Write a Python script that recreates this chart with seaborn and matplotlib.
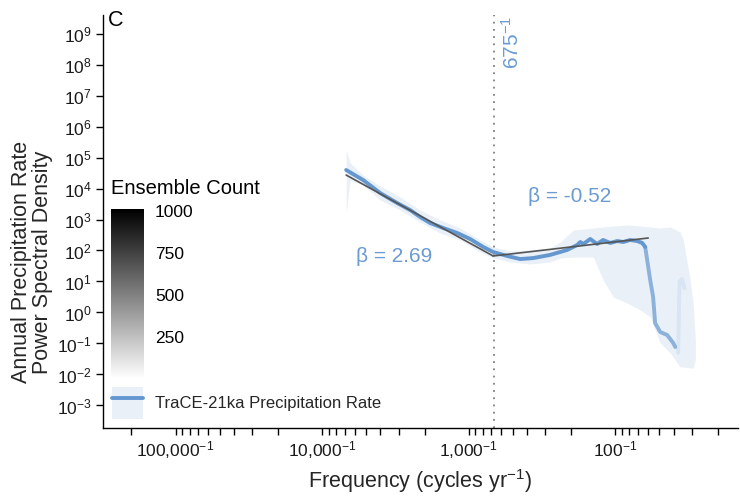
import numpy as np
import pandas as pd
import matplotlib
matplotlib.use("Agg")
import matplotlib.pyplot as plt
import seaborn as sns
from matplotlib.colors import LinearSegmentedColormap, Normalize
from matplotlib.cm import ScalarMappable
from matplotlib.patches import Patch
from matplotlib.lines import Line2D
from matplotlib.legend_handler import HandlerTuple

# ---------------- data ----------------
line_period = [6855, 5250, 4018, 3076, 2507, 2143, 1832, 1493, 1197, 977, 796, 680,
               546, 445, 363, 278, 213, 182, 173, 165, 148, 133, 121, 108, 96.9,
               88.1, 79.0, 70.8, 65.4, 62.4]
line_psd = [39500, 18800, 7160, 3400, 2020, 1205, 771, 532, 367, 235, 130, 89.5,
            66.5, 53, 57, 72, 104, 150, 188, 162, 235, 162, 218, 175, 202,
            188, 218, 202, 175, 130]

tail_period = [62.4, 60.5, 57.7, 55.1, 53.4, 49.3, 44.2, 40.2, 38.9]
tail_psd = [130, 49.4, 11.2, 3.16, 0.458, 0.235, 0.188, 0.104, 0.077]

ghost_period = [37.2, 36.4, 35.0, 33.6]
ghost_psd = [0.05, 10, 12, 6]

band_period = [6855, 6440, 5250, 4018, 2935, 2143, 1565, 1143, 835, 680, 521, 380,
               278, 237, 193, 141, 121, 103, 82.8, 67.5, 57.7, 49.3, 42.1, 36.0,
               34.3, 30.8, 29.4, 28.4]
band_upper = [174600, 66500, 27200, 12050, 5320, 2020, 963, 532, 218, 130, 96.3, 104,
              120, 188, 458, 532, 573, 617, 665, 617, 573, 532, 573, 395,
              218, 11.2, 2.02, 0.130]
band_lower = [1622, 18800, 12970, 4255, 2020, 830, 367, 218, 89.5, 57.3, 42.6, 36.7,
              42.6, 57.3, 61.7, 61.7, 11.2, 3.16, 2.02, 1.21, 0.716, 0.104, 0.0494, 0.0175,
              0.0175, 0.0162, 0.0162, 0.0294]

fit_low_period = [6855, 680]
fit_low_psd = [27200, 66.5]
fit_high_period = [680, 59.5]
fit_high_psd = [66.5, 253]

break_period = 675
beta_low = 2.69
beta_high = -0.52

x_major_periods = [100000, 10000, 1000, 100]
x_major_labels = ["100,000$^{-1}$", "10,000$^{-1}$", "1,000$^{-1}$", "100$^{-1}$"]
x_minor_periods = [200000, 90000, 80000, 70000, 60000, 50000, 40000, 30000, 20000,
                   9000, 8000, 7000, 6000, 5000, 4000, 3000, 2000,
                   900, 800, 700, 600, 500, 400, 300, 200,
                   90, 80, 70, 60, 50, 40, 30, 20]
y_exponents = list(range(-3, 10))
cbar_ticks = [250, 500, 750, 1000]

# ---------------- style ----------------
sns.set_theme(style="ticks")
plt.rcParams['font.family'] = ['Liberation Sans', 'DejaVu Sans']
plt.rcParams['mathtext.fontset'] = 'custom'
plt.rcParams['mathtext.rm'] = 'Liberation Sans'
plt.rcParams['mathtext.it'] = 'Liberation Sans:italic'
plt.rcParams['mathtext.bf'] = 'Liberation Sans:bold'
plt.rcParams['mathtext.default'] = 'regular'

BLUE = "#6497D0"
TXT_BLUE = "#6A9BD3"
BAND = "#EAF0F7"
GREY_FIT = "#555555"

W, H = 740, 496
fig = plt.figure(figsize=(W / 100, H / 100), dpi=100)
L, R, T, B = 103, 738, 15, 428
ax = fig.add_axes([L / W, 1 - B / H, (R - L) / W, (B - T) / H])

freq = lambda p: 1.0 / np.asarray(p, dtype=float)

ax.fill_between(freq(band_period), band_lower, band_upper, color=BAND, lw=0, zorder=1)

line_df = pd.DataFrame({"freq": freq(line_period), "psd": line_psd})
tail_df = pd.DataFrame({"freq": freq(tail_period), "psd": tail_psd})
ghost_df = pd.DataFrame({"freq": freq(ghost_period), "psd": ghost_psd})
sns.lineplot(data=ghost_df, x="freq", y="psd", ax=ax, color=BLUE, alpha=0.12,
             linewidth=2.8, estimator=None, zorder=2)
sns.lineplot(data=tail_df, x="freq", y="psd", ax=ax, color=BLUE, alpha=0.7,
             linewidth=2.8, estimator=None, zorder=3)
sns.lineplot(data=line_df, x="freq", y="psd", ax=ax, color=BLUE,
             linewidth=2.8, estimator=None, zorder=3)
sns.lineplot(x=freq(fit_low_period), y=fit_low_psd, ax=ax, color=GREY_FIT,
             linewidth=1.2, estimator=None, zorder=4)
sns.lineplot(x=freq(fit_high_period), y=fit_high_psd, ax=ax, color=GREY_FIT,
             linewidth=1.2, estimator=None, zorder=4)

ax.axvline(1.0 / break_period, color="#808080", linestyle=(0, (1, 3)), linewidth=1.3, zorder=2)

ax.set_xscale("log")
ax.set_yscale("log")
ax.set_xlim(10 ** -5.495, 10 ** -1.162)
ax.set_ylim(10 ** -3.726, 10 ** 9.597)

ax.set_xticks(freq(x_major_periods))
ax.set_xticklabels(x_major_labels)
ax.set_xticks(freq(x_minor_periods), minor=True)
ax.xaxis.set_minor_formatter(matplotlib.ticker.NullFormatter())
ax.set_yticks([10.0 ** k for k in y_exponents])
ax.set_yticklabels([f"$10^{{{k}}}$" for k in y_exponents])
ax.yaxis.set_minor_locator(matplotlib.ticker.NullLocator())
ax.tick_params(which="both", length=5, width=1, color="black", labelsize=12.5,
               labelcolor="#1a1a1a", pad=3)

for s in ["top", "right"]:
    ax.spines[s].set_visible(False)
for s in ["left", "bottom"]:
    ax.spines[s].set_color("black")
    ax.spines[s].set_linewidth(1)
ax.grid(False)
ax.set_facecolor("white")

ax.set_xlabel("Frequency (cycles yr$^{-1}$)", fontsize=15.5, labelpad=4.5)
ax.set_ylabel("Annual Precipitation Rate\nPower Spectral Density", fontsize=15.5,
              linespacing=1.0)
ax.yaxis.set_label_coords((53 - L) / (R - L), (B - 262) / (B - T))

# annotations
ax.text(10 ** -3.249, 10 ** 1.82, f"β = {beta_low}", color=TXT_BLUE, fontsize=15,
        ha="right", va="center")
ax.text(10 ** -2.594, 10 ** 3.73, f"β = {beta_high}", color=TXT_BLUE, fontsize=15,
        ha="left", va="center")
ax.text(1.0 / break_period * 1.33, 10 ** 8.71, f"{break_period}$^{{-1}}$", color=TXT_BLUE,
        fontsize=15, rotation=90, ha="center", va="center")
fig.text(108 / W, 1 - 21 / H, "C", fontsize=15.5, ha="left", va="center", color="black")

# colour-bar legend (Ensemble Count)
fig.text(111 / W, 1 - 189 / H, "Ensemble Count", fontsize=14.5, ha="left", va="center",
         color="black")
cmap = LinearSegmentedColormap.from_list("wb", ["#FFFFFF", "#000000"])
cax = fig.add_axes([111 / W, 1 - 379 / H, 33 / W, 170 / H])
sm = ScalarMappable(norm=Normalize(0, 1010), cmap=cmap)
cb = fig.colorbar(sm, cax=cax, ticks=cbar_ticks)
cb.outline.set_visible(False)
cax.tick_params(which="both", direction="in", length=6, width=1, color="white",
                left=True, right=True, labelsize=12.5, labelcolor="black", pad=8)
cax.yaxis.set_minor_locator(matplotlib.ticker.NullLocator())

# line legend
handle = (Patch(facecolor=BAND, edgecolor="none"), Line2D([], [], color=BLUE, linewidth=2.8))
ax.legend(handles=[handle], labels=["TraCE-21ka Precipitation Rate"],
          handler_map={tuple: HandlerTuple(ndivide=1)},
          loc="center left", bbox_to_anchor=(112 / W, 1 - 403 / H),
          bbox_transform=fig.transFigure, frameon=False, fontsize=12,
          handlelength=1.86, handleheight=2.5, handletextpad=0.72,
          borderpad=0, borderaxespad=0)

fig.savefig("out.png", dpi=100)
